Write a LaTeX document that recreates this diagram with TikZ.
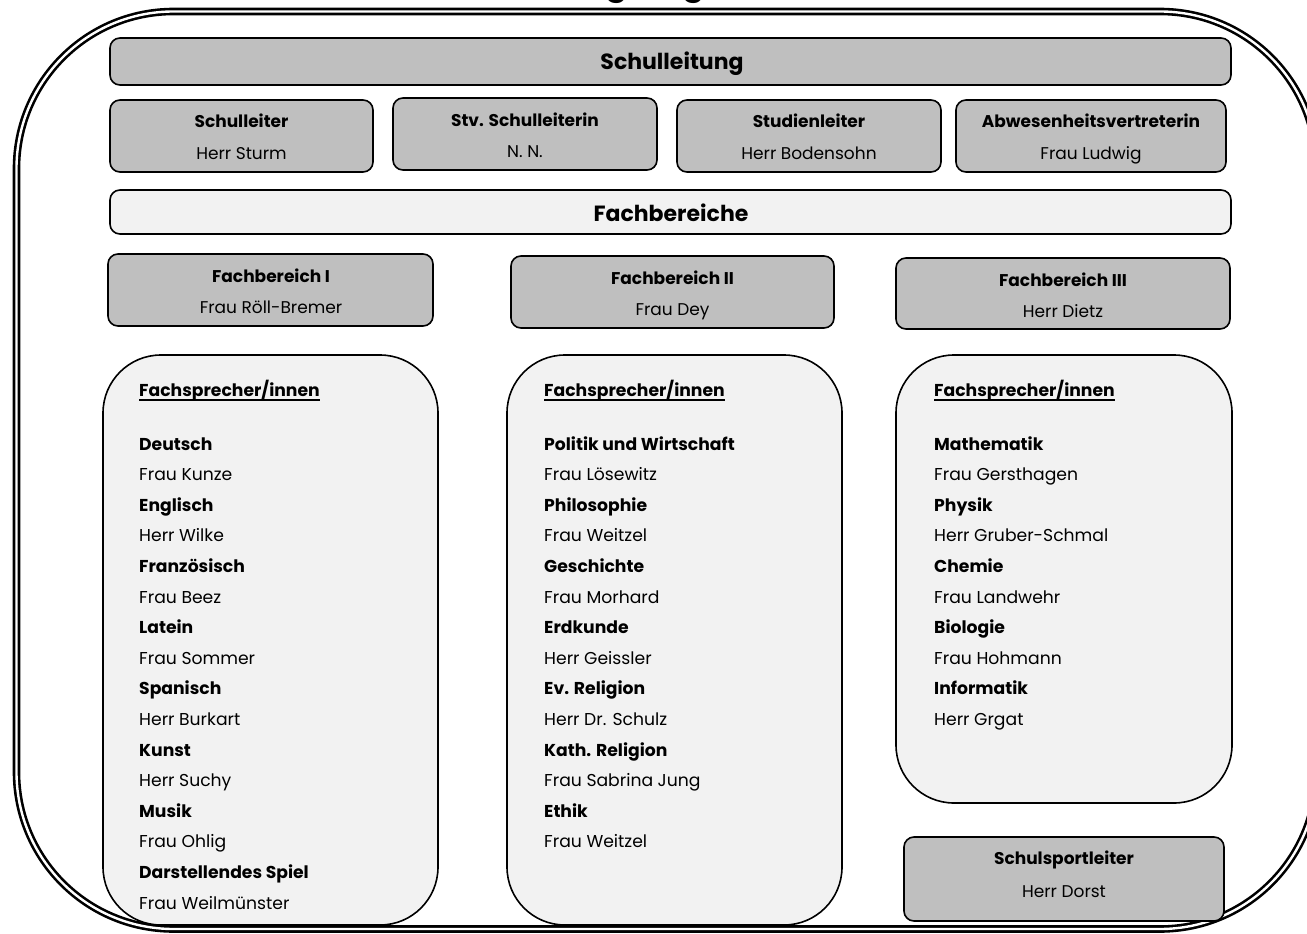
\documentclass[tikz,border=0pt]{standalone}
\usepackage{fontspec}
\setmainfont{Poppins}
\definecolor{boxgray}{HTML}{BFBFBF}
\definecolor{boxlight}{HTML}{F2F2F2}
\begin{document}
\begin{tikzpicture}[x=1pt,y=-1pt,
  box/.style={draw=black, line width=1.6pt, rounded corners=10pt},
  dark/.style={box, fill=boxgray},
  light/.style={box, fill=boxlight},
  colbox/.style={draw=black, line width=1.6pt, rounded corners=58pt, fill=boxlight},
  ttl/.style={font=\fontsize{17}{17}\selectfont\bfseries, anchor=base, inner sep=0},
  nm/.style={font=\fontsize{17}{17}\selectfont, anchor=base, inner sep=0},
  big/.style={font=\fontsize{22}{22}\selectfont\bfseries, anchor=base, inner sep=0},
  subj/.style={font=\fontsize{17.2}{17.2}\selectfont\bfseries, anchor=base west, inner sep=0},
  pers/.style={font=\fontsize{17.2}{17.2}\selectfont, anchor=base west, inner sep=0},
  frame/.style={draw=black, double=white, double distance=2.4pt, line width=2.6pt, rounded corners=157pt}
]
\clip (0,0) rectangle (1307,934);
\fill[white] (0,0) rectangle (1307,934);
% title (cut off at the top)
\node[font=\fontsize{33}{33}\selectfont\bfseries, anchor=base, inner sep=0] (title) at (688,-5) {Organigramm};
% outer frame
\draw[frame] (16.5,11.5) rectangle (1317,929);

% Schulleitung
\draw[dark] (110,38) rectangle (1231,85);
\node[big] (sl) at (672,70) {Schulleitung};

\draw[dark] (110,100) rectangle (373,172);
\node[ttl] (slt) at (241.5,128) {Schulleiter};
\node[nm] (sln) at (241.5,159) {Herr Sturm};

\draw[dark] (393,98) rectangle (657,170);
\node[ttl] (stvt) at (525,126) {Stv. Schulleiterin};
\node[nm] (stvn) at (525,157) {N. N.};

\draw[dark] (677,100) rectangle (941,172);
\node[ttl] (stt) at (809,128) {Studienleiter};
\node[nm] (stn) at (809,159) {Herr Bodensohn};

\draw[dark] (956,100) rectangle (1226,172);
\node[ttl] (awt) at (1091,128) {Abwesenheitsvertreterin};
\node[nm] (awn) at (1091,159) {Frau Ludwig};

% Fachbereiche
\draw[light] (110,190) rectangle (1231,234);
\node[big] (fb) at (671,221) {Fachbereiche};

\draw[dark] (108,254) rectangle (433,326);
\node[ttl] (fb1t) at (271,282) {Fachbereich I};
\node[nm] (fb1n) at (271,313) {Frau Röll-Bremer};

\draw[dark] (511,256) rectangle (834,328);
\node[ttl] (fb2t) at (672.5,284) {Fachbereich II};
\node[nm] (fb2n) at (672.5,315) {Frau Dey};

\draw[dark] (896,258) rectangle (1230,329);
\node[ttl] (fb3t) at (1063,286) {Fachbereich III};
\node[nm] (fb3n) at (1063,317) {Herr Dietz};

% columns
\draw[colbox] (103,355) rectangle (438,925);
\draw[colbox] (507,355) rectangle (842,925);
\draw[colbox] (896,355) rectangle (1232,803);

\node[subj] (h1) at (139,396) {Fachsprecher/innen};
\node[subj] (h2) at (544,396) {Fachsprecher/innen};
\node[subj] (h3) at (934,396) {Fachsprecher/innen};
\foreach \h in {h1,h2,h3}
  \draw[line width=1.3pt] ([yshift=-4pt]\h.base west) -- ([yshift=-4pt]\h.base east);

\foreach \s/\p [count=\i from 0] in {Deutsch/Frau Kunze, Englisch/Herr Wilke, Französisch/Frau Beez, Latein/Frau Sommer, Spanisch/Herr Burkart, Kunst/Herr Suchy, Musik/Frau Ohlig, Darstellendes Spiel/Frau Weilmünster}{
  \node[subj] (a\i) at (139,450+61.2*\i) {\s};
  \node[pers] (ap\i) at (139,480.6+61.2*\i) {\p};
}
\foreach \s/\p [count=\i from 0] in {Politik und Wirtschaft/Frau Lösewitz, Philosophie/Frau Weitzel, Geschichte/Frau Morhard, Erdkunde/Herr Geissler, Ev. Religion/Herr Dr. Schulz, Kath. Religion/Frau Sabrina Jung, Ethik/Frau Weitzel}{
  \node[subj] (b\i) at (544,450+61.2*\i) {\s};
  \node[pers] (bp\i) at (544,480.6+61.2*\i) {\p};
}
\foreach \s/\p [count=\i from 0] in {Mathematik/Frau Gersthagen, Physik/Herr Gruber-Schmal, Chemie/Frau Landwehr, Biologie/Frau Hohmann, Informatik/Herr Grgat}{
  \node[subj] (c\i) at (934,450+61.2*\i) {\s};
  \node[pers] (cp\i) at (934,480.6+61.2*\i) {\p};
}

% Schulsportleiter
\draw[dark] (904,837) rectangle (1224,921);
\node[ttl] (spt) at (1064,864) {Schulsportleiter};
\node[nm] (spn) at (1064,897) {Herr Dorst};
\end{tikzpicture}
\end{document}
